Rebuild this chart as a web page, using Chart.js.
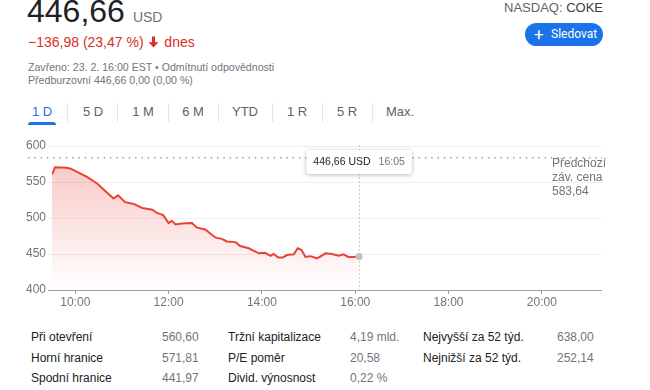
<!DOCTYPE html>
<html>
<head>
<meta charset="utf-8">
<script src="https://cdn.jsdelivr.net/npm/chart.js@4.4.1/dist/chart.umd.min.js"></script>
<style>
  html, body { margin:0; padding:0; background:#fff; }
  body { width:650px; height:390px; position:relative; overflow:hidden;
         font-family:"Liberation Sans", Arial, sans-serif; color:#202124; }
  .abs { position:absolute; line-height:1; white-space:nowrap; }
  .gray { color:#70757a; }
  .tab { position:absolute; top:105px; font-size:13px; line-height:1; color:#5f6368; transform:translateX(-50%); }
  .sep { position:absolute; top:103px; width:1px; height:19px; background:#e3e5e8; }
  .row { position:absolute; font-size:12px; line-height:1; white-space:nowrap; }
  #wrap { position:absolute; left:0; top:135px; width:650px; height:175px; }
</style>
</head>
<body>
<div class="abs" style="left:27px; top:-5px; font-size:32px;">446,66<span class="gray" style="font-size:14px; margin-left:8px;">USD</span></div>
<div class="abs" style="left:28px; top:35px; font-size:14px; color:#d93025;">−136,98 (23,47 %) <svg width="13" height="14" viewBox="0 0 24 24" style="vertical-align:-2px"><path fill="#d93025" d="M12 22L3 12.5h6.2V2h5.6v10.5H21z"/></svg> dnes</div>
<div class="abs gray" style="left:28px; top:61.5px; font-size:10.6px;">Zavřeno: 23. 2. 16:00 EST • Odmítnutí odpovědnosti</div>
<div class="abs gray" style="left:28px; top:75px; font-size:10.6px;">Předburzovní 446,66 0,00 (0,00 %)</div>

<div class="abs" style="right:47px; top:1px; font-size:13px; color:#5f6368;">NASDAQ: <span style="color:#3c4043">COKE</span></div>
<div class="abs" style="left:525px; top:23px; width:78px; height:23px; border-radius:12px; background:#1a73e8; color:#fff; font-family:Roboto, sans-serif; font-weight:400; font-size:12px; line-height:23px;">
  <span style="position:absolute; left:9px; top:0; font-size:17px;">+</span>
  <span style="position:absolute; left:26px; top:0;">Sledovat</span>
</div>

<div class="tab" style="left:42px; color:#1a73e8;">1 D</div>
<div class="tab" style="left:93px;">5 D</div>
<div class="tab" style="left:143px;">1 M</div>
<div class="tab" style="left:193px;">6 M</div>
<div class="tab" style="left:245px;">YTD</div>
<div class="tab" style="left:297px;">1 R</div>
<div class="tab" style="left:347px;">5 R</div>
<div class="tab" style="left:400px;">Max.</div>
<div class="sep" style="left:67px;"></div>
<div class="sep" style="left:117px;"></div>
<div class="sep" style="left:168px;"></div>
<div class="sep" style="left:218px;"></div>
<div class="sep" style="left:272px;"></div>
<div class="sep" style="left:322px;"></div>
<div class="sep" style="left:372px;"></div>
<div class="abs" style="left:28px; top:122px; width:28px; height:3px; background:#1a73e8; border-radius:3px 3px 0 0;"></div>

<div id="wrap"><canvas id="chart"></canvas></div>

<div class="row" style="left:31px; top:331px;">Při otevření</div>
<div class="row gray" style="left:162px; top:331px;">560,60</div>
<div class="row" style="left:228px; top:331px;">Tržní kapitalizace</div>
<div class="row gray" style="left:350px; top:331px;">4,19 mld.</div>
<div class="row" style="left:423px; top:331px;">Nejvyšší za 52 týd.</div>
<div class="row gray" style="left:557px; top:331px;">638,00</div>

<div class="row" style="left:31px; top:351.5px;">Horní hranice</div>
<div class="row gray" style="left:162px; top:351.5px;">571,81</div>
<div class="row" style="left:228px; top:351.5px;">P/E poměr</div>
<div class="row gray" style="left:350px; top:351.5px;">20,58</div>
<div class="row" style="left:423px; top:351.5px;">Nejnižší za 52 týd.</div>
<div class="row gray" style="left:557px; top:351.5px;">252,14</div>

<div class="row" style="left:31px; top:372px;">Spodní hranice</div>
<div class="row gray" style="left:162px; top:372px;">441,97</div>
<div class="row" style="left:228px; top:372px;">Divid. výnosnost</div>
<div class="row gray" style="left:350px; top:372px;">0,22 %</div>

<script>
// --- data (1D intraday, NASDAQ: COKE) ---
const times = ['9:30','9:34','9:49','9:54','10:06','10:15','10:28','10:49','10:55','11:04','11:15','11:26','11:39','11:45','11:53',
  '12:00','12:04','12:09','12:17','12:30','12:36','12:47','13:00','13:09','13:15','13:26','13:32','13:43','13:56',
  '14:04','14:11','14:15','14:21','14:27','14:32','14:41','14:46','14:51','14:56','15:02','15:11','15:22','15:30',
  '15:39','15:45','15:51','15:58','16:05'];
const prices = [560.6,570.5,569.8,568.5,562,557,548,527,531.5,522,519.5,514,511.5,507,504,
  493,496,491,492.5,493,487,484,473,470.7,467.5,466.5,461,458,451,
  451.7,447.5,450,445,445,448.5,449.5,458,455.5,446,447,444,451,450,
  447.5,449.5,446,446,446.66];
const prevClose = 583.64;
const yTicks = [400, 450, 500, 550, 600];
const xTicks = [10, 12, 14, 16, 18, 20];
const xRange = [9.5, 21.29];

const RED = '#e94235';
const GRAY = '#70757a';
const FONT = '"Liberation Sans", Arial, sans-serif';

const toHours = t => { const [h, m] = t.split(':'); return +h + (+m) / 60; };
const fmt = v => v.toFixed(2).replace('.', ',');
const points = times.map((t, i) => ({ x: toHours(t), y: prices[i] }));
const last = points.length - 1;

const overlay = {
  id: 'overlay',
  beforeDatasetsDraw(chart) {
    const { ctx, chartArea, scales } = chart;
    const x = scales.x.getPixelForValue(points[last].x);
    ctx.save();
    ctx.strokeStyle = '#c8cbcf';
    ctx.lineWidth = 1;
    ctx.setLineDash([2, 2]);
    ctx.beginPath();
    ctx.moveTo(Math.round(x) + 0.5, chartArea.top - 1);
    ctx.lineTo(Math.round(x) + 0.5, chartArea.bottom);
    ctx.stroke();
    // předchozí závěrečná cena
    const py = scales.y.getPixelForValue(prevClose);
    ctx.strokeStyle = '#9aa0a6';
    ctx.lineWidth = 1.5;
    ctx.setLineDash([1.5, 4.8]);
    ctx.beginPath();
    ctx.moveTo(28, py);
    ctx.lineTo(chartArea.right, py);
    ctx.stroke();
    ctx.setLineDash([]);
    ctx.fillStyle = GRAY;
    ctx.font = '12px ' + FONT;
    ctx.textBaseline = 'middle';
    ctx.textAlign = 'left';
    const tx = chartArea.right - 50;
    ctx.fillText('Předchozí', tx, py + 6);
    ctx.fillText('záv. cena', tx, py + 20);
    ctx.fillText(fmt(prevClose), tx, py + 34);
    ctx.restore();
  },
  afterDatasetsDraw(chart) {
    const { ctx, chartArea, scales } = chart;
    const x = scales.x.getPixelForValue(points[last].x);
    const t1 = fmt(prices[last]) + ' USD', t2 = times[last];
    ctx.save();
    ctx.font = '10.5px ' + FONT;
    const w1 = ctx.measureText(t1).width, w2 = ctx.measureText(t2).width;
    const w = 7 + w1 + 8 + w2 + 7, h = 24;
    const bx = x - w / 2, by = chartArea.top + 4;
    ctx.shadowColor = 'rgba(0,0,0,0.28)';
    ctx.shadowBlur = 4;
    ctx.shadowOffsetY = 1;
    ctx.fillStyle = '#fff';
    ctx.beginPath();
    ctx.roundRect(bx, by, w, h, 3);
    ctx.fill();
    ctx.shadowColor = 'transparent';
    ctx.textBaseline = 'middle';
    ctx.fillStyle = '#202124';
    ctx.fillText(t1, bx + 7, by + h / 2 + 0.5);
    ctx.fillStyle = GRAY;
    ctx.fillText(t2, bx + 7 + w1 + 8, by + h / 2 + 0.5);
    ctx.restore();
  }
};

new Chart(document.getElementById('chart'), {
  type: 'line',
  data: { datasets: [{
    data: points,
    borderColor: RED,
    borderWidth: 2,
    tension: 0,
    fill: 'start',
    backgroundColor: c => {
      const a = c.chart.chartArea;
      if (!a) return 'rgba(233,66,53,0.15)';
      const g = c.chart.ctx.createLinearGradient(0, a.top, 0, a.bottom);
      g.addColorStop(0, 'rgba(233,66,53,0.32)');
      g.addColorStop(1, 'rgba(233,66,53,0)');
      return g;
    },
    pointRadius: c => c.dataIndex === last ? 3.5 : 0,
    pointBackgroundColor: '#bdc1c6',
    pointBorderWidth: 0
  }] },
  options: {
    responsive: true, maintainAspectRatio: false, animation: false,
    layout: { padding: { top: 11, right: 48, left: 0, bottom: 0 } },
    plugins: { legend: { display: false }, tooltip: { enabled: false } },
    scales: {
      x: {
        type: 'linear', min: xRange[0], max: xRange[1],
        afterBuildTicks: s => { s.ticks = xTicks.map(v => ({ value: v })); },
        afterFit: s => { s.height = 20; },
        border: { display: false },
        grid: { drawOnChartArea: false, drawTicks: true, tickLength: 4, color: '#9aa0a6' },
        ticks: { padding: 1, color: GRAY, font: { family: FONT, size: 12 },
          callback: v => v + ':00', maxRotation: 0 }
      },
      y: {
        min: 400, max: 600,
        afterBuildTicks: s => { s.ticks = yTicks.map(v => ({ value: v })); },
        afterFit: s => { s.width = 52; },
        border: { display: false },
        grid: { tickLength: 4, color: c => c.tick && c.tick.value === 400 ? '#9aa0a6' : '#eeeff1' },
        ticks: { padding: 2, color: GRAY, font: { family: FONT, size: 12 } }
      }
    }
  },
  plugins: [overlay]
});
</script>
</body>
</html>
